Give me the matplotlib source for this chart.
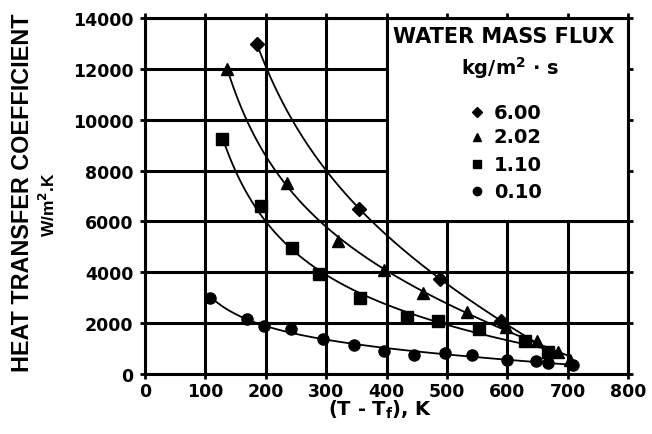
import numpy as np
import matplotlib.pyplot as plt
from matplotlib.patches import Rectangle

plt.rcParams['font.family'] = ['DejaVu Sans']
plt.rcParams['font.weight'] = 'bold'
plt.rcParams['mathtext.default'] = 'bf'

# water mass flux 6.00 kg/m2.s
x_600 = [185, 355, 488, 589]
y_600 = [13000, 6500, 3750, 2100]
# 2.02
x_202 = [136, 235, 320, 396, 461, 533, 598, 649, 684, 703]
y_202 = [12000, 7500, 5250, 4100, 3200, 2450, 1850, 1280, 850, 560]
# 1.10
x_110 = [127, 192, 243, 288, 356, 434, 485, 553, 629, 667]
y_110 = [9250, 6600, 4950, 3950, 3000, 2250, 2100, 1780, 1280, 850]
# 0.10
x_010 = [108, 169, 197, 242, 295, 346, 396, 445, 497, 541, 599, 647, 668, 709]
y_010 = [3000, 2180, 1900, 1780, 1380, 1150, 900, 760, 820, 730, 540, 500, 450, 370]

labels = ['6.00', '2.02', '1.10', '0.10']
markers = ['D', '^', 's', 'o']

x_ticks = [0, 100, 200, 300, 400, 500, 600, 700, 800]
y_ticks = [0, 2000, 4000, 6000, 8000, 10000, 12000, 14000]

fig = plt.figure(figsize=(6.52, 4.35), dpi=100)
ax = fig.add_axes([0.2224, 0.138, 0.741, 0.818])

ax.set_xlim(0, 800)
ax.set_ylim(0, 14000)
ax.set_xticks(x_ticks)
ax.set_yticks(y_ticks)
ax.tick_params(direction='inout', length=7, width=2, labelsize=12.5)
ax.tick_params(axis='y', pad=5)
ax.tick_params(axis='x', pad=2)
ax.tick_params(top=True, right=True, labeltop=False, labelright=False)
for lab in ax.get_xticklabels() + ax.get_yticklabels():
    lab.set_fontweight('bold')
for s in ax.spines.values():
    s.set_linewidth(2.2)
ax.grid(True, color='black', linewidth=2.2)
ax.set_axisbelow(True)

# legend panel covers upper right part of the grid
ax.add_patch(Rectangle((400, 6000), 400, 8000, facecolor='white',
                       edgecolor='black', linewidth=2.2, zorder=1.5))

# smooth fitted curve: y = a + b/x + c*x (least squares)
series = [(x_600, y_600, 660), (x_202, y_202, 703),
          (x_110, y_110, 667), (x_010, y_010, 709)]
for (xs, ys, xend), m in zip(series, markers):
    xs = np.array(xs, dtype=float)
    ys = np.array(ys, dtype=float)
    A = np.column_stack([np.ones_like(xs), 1.0 / xs, xs])
    coef = np.linalg.lstsq(A, ys, rcond=None)[0]
    xf = np.linspace(xs.min(), xend, 200)
    yf = coef[0] + coef[1] / xf + coef[2] * xf
    ax.plot(xf, yf, color='black', linewidth=1.3, zorder=3)
    ms = 8 if m != 'D' else 7
    ax.plot(xs, ys, linestyle='none', marker=m, color='black', markersize=ms,
            zorder=4)

# legend text
ax.text(0.743, 0.949, 'WATER MASS FLUX', transform=ax.transAxes, ha='center',
        va='center', fontsize=15, fontweight='bold', zorder=5)
ax.text(0.755, 0.862, 'kg/m$^2$ $\\cdot$ s', transform=ax.transAxes,
        ha='center', va='center', fontsize=14, fontweight='bold', zorder=5)
leg_y = [0.736, 0.666, 0.590, 0.514]
for lab, m, yy in zip(labels, markers, leg_y):
    ax.plot([0.687], [yy], transform=ax.transAxes, marker=m, color='black',
            markersize=6 if m != 'D' else 5, linestyle='none', zorder=5)
    ax.text(0.722, yy, lab, transform=ax.transAxes, ha='left', va='center',
            fontsize=14, fontweight='bold', zorder=5)

fig.text(0.583, 0.057, '(T - T$_f$), K', ha='center', va='center',
         fontsize=14, fontweight='bold')
fig.text(0.034, 0.558, 'HEAT TRANSFER COEFFICIENT', rotation=90, ha='center',
         va='center', fontsize=16.8, fontweight='bold',
         family=['Liberation Sans', 'DejaVu Sans'])
fig.text(0.074, 0.529, 'W/m$^2$.K', rotation=90, ha='center',
         va='center', fontsize=12.5, fontweight='bold',
         family=['Liberation Sans', 'DejaVu Sans'])

fig.savefig('out.png', dpi=100)
